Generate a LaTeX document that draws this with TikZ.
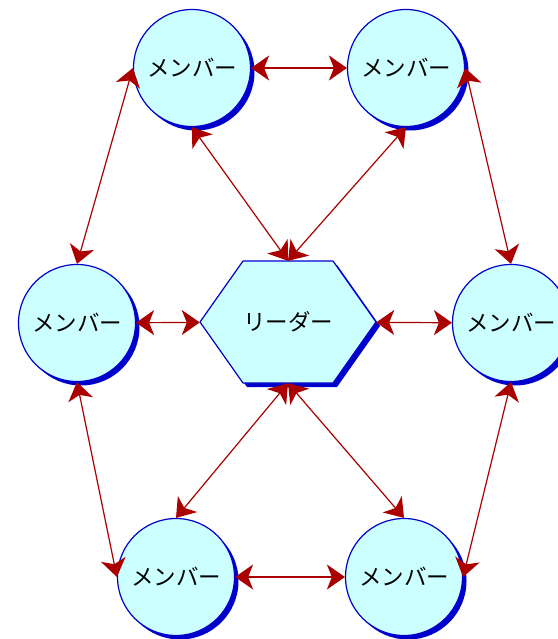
\documentclass[tikz,border=0pt]{standalone}
\usepackage{fontspec}
\newfontfamily\jpfont{Noto Sans CJK JP}
\usetikzlibrary{arrows.meta,shadows}
\definecolor{memberfill}{HTML}{CCFFFF}
\definecolor{memberline}{HTML}{0000CC}
\definecolor{linkred}{HTML}{AA0000}

\begin{document}
\begin{tikzpicture}[x=1pt,y=-1pt,line join=round,
  every node/.style={inner sep=0pt},
  blueshadow/.style={drop shadow={shadow xshift=4pt,shadow yshift=-4pt,fill=memberline,opacity=1}},
  member/.style={circle,draw=memberline,fill=memberfill,line width=1.2pt,minimum size=117pt,
    font=\jpfont\fontsize{22.5}{26}\selectfont,blueshadow},
  leaderbox/.style={rectangle,minimum width=176pt,minimum height=122pt,
    font=\jpfont\fontsize{22.5}{26}\selectfont},
  link/.style={draw=linkred,line width=1.2pt,
    {Stealth[length=18pt,width=25pt,inset=5pt]}-{Stealth[length=18pt,width=25pt,inset=5pt]}}]
  \useasboundingbox (0,0) rectangle (557,639);
  % members
  \node[member] (tl) at (192,68) {メンバー};
  \node[member] (tr) at (406,68) {メンバー};
  \node[member] (l) at (77,323) {メンバー};
  \node[member] (r) at (511,323) {メンバー};
  \node[member] (bl) at (176,577) {メンバー};
  \node[member] (br) at (404,577) {メンバー};
  % leader
  \draw[draw=memberline,fill=memberfill,line width=1.2pt,blueshadow]
    (200,322) -- (243,261) -- (333,261) -- (376,322) -- (333,383) -- (243,383) -- cycle;
  \node[leaderbox] (leader) at (288,322) {リーダー};
  % links
  \draw[link] (tl) -- (tr);
  \draw[link] (tl.west) -- (l.north);
  \draw[link] (tr.east) -- (r.north);
  \draw[link] (l) -- (leader);
  \draw[link] (leader) -- (r);
  \draw[link] (tl.south) -- (leader.north);
  \draw[link] (tr.south) -- (leader.north);
  \draw[link] (leader.south) -- (bl.north);
  \draw[link] (leader.south) -- (br.north);
  \draw[link] (l.south) -- (bl.west);
  \draw[link] (r.south) -- (br.east);
  \draw[link] (bl) -- (br);
\end{tikzpicture}
\end{document}
